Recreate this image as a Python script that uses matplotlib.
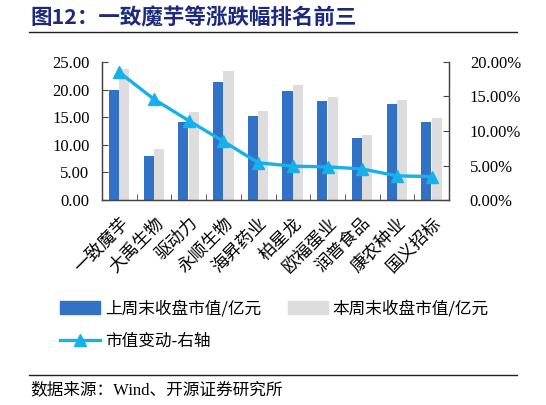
import numpy as np
import matplotlib
matplotlib.use("Agg")
import matplotlib.pyplot as plt
from matplotlib.lines import Line2D
from matplotlib.patches import Patch
from matplotlib.ticker import FuncFormatter, MultipleLocator, FixedLocator

plt.rcParams["font.family"] = "serif"
plt.rcParams["font.serif"] = ["Liberation Serif", "DejaVu Serif"]
CJK = ["Noto Sans CJK SC", "DejaVu Sans"]

# ── data ──────────────────────────────────────────────────────────────
companies = ["一致魔芋", "大禹生物", "驱动力", "永顺生物", "海昇药业",
             "柏星龙", "欧福蛋业", "润普食品", "康农种业", "国义招标"]
cap_last_week = [19.9, 8.0, 14.2, 21.4, 15.2, 19.8, 17.9, 11.2, 17.4, 14.2]
cap_this_week = [23.7, 9.2, 15.9, 23.3, 16.1, 20.8, 18.7, 11.7, 18.1, 14.8]
cap_change_pct = [18.5, 14.6, 11.5, 8.5, 5.4, 4.9, 4.8, 4.5, 3.5, 3.4]

C_BLUE = "#3272C6"
C_GREY = "#DDDDDD"
C_LINE = "#16B0EA"
C_TITLE = "#1B2A7E"

W, H = 546, 405
fig = plt.figure(figsize=(W / 100, H / 100), dpi=100)
ax = fig.add_axes([102 / W, 1 - 200 / H, (449 - 102) / W, (200 - 62) / H])
ax2 = ax.twinx()

x = np.arange(len(companies))
bw = 0.29
ax.bar(x - bw / 2 - 0.01, cap_last_week, bw, color=C_BLUE, zorder=2)
ax.bar(x + bw / 2, cap_this_week, bw, color=C_GREY, zorder=2)
ax2.plot(x, cap_change_pct, color=C_LINE, lw=2.4, marker="^", ms=8,
         zorder=3)

ax.set_xlim(-0.5, len(companies) - 0.5)
ax.set_ylim(0, 25)
ax2.set_ylim(0, 20)
ax.yaxis.set_major_locator(MultipleLocator(5))
ax2.yaxis.set_major_locator(MultipleLocator(5))
ax.yaxis.set_major_formatter(FuncFormatter(lambda v, p: f"{v:.2f}"))
ax2.yaxis.set_major_formatter(FuncFormatter(lambda v, p: f"{v:.2f}%"))

ax.xaxis.set_major_locator(FixedLocator(x))
ax.set_xticklabels(companies, rotation=45, ha="right",
                   rotation_mode="anchor", family=CJK, fontsize=12.5)
ax.xaxis.set_minor_locator(FixedLocator(np.arange(-0.5, len(companies), 1)))
ax.tick_params(axis="x", which="major", length=0, pad=10)
ax.tick_params(axis="x", which="minor", direction="in", length=4,
               color="#444444")
ax.tick_params(axis="y", direction="in", length=4, labelsize=12,
               color="#444444", pad=9)
ax2.tick_params(axis="y", direction="in", length=4, labelsize=12,
                color="#444444", pad=15)

for a in (ax, ax2):
    a.spines["top"].set_visible(False)
    for s in ("left", "right", "bottom"):
        a.spines[s].set_color("#444444")
        a.spines[s].set_linewidth(0.9)
    a.set_facecolor("none")

handles = [Patch(color=C_BLUE),
           Line2D([], [], color=C_LINE, lw=2.4, marker="^", ms=8),
           Patch(color=C_GREY)]
labels = ["上周末收盘市值/亿元", "市值变动-右轴", "本周末收盘市值/亿元"]
fig.legend(handles, labels, loc="upper left",
           bbox_to_anchor=(60 / W, 1 - 300 / H), ncol=2, frameon=False,
           prop={"family": CJK, "size": 12}, handlelength=2.4,
           handleheight=0.8, handletextpad=0.3, columnspacing=1.6,
           labelspacing=0.95, borderpad=0, borderaxespad=0)

fig.text(30 / W, 1 - 18 / H, "图12：一致魔芋等涨跌幅排名前三",
         family=CJK, fontsize=15.5, fontweight="bold", color=C_TITLE,
         va="center", ha="left")
fig.add_artist(Line2D([29 / W, 517 / W], [1 - 32 / H, 1 - 32 / H],
                      color="#222222", lw=1.0))
fig.add_artist(Line2D([29 / W, 517 / W], [1 - 375 / H, 1 - 375 / H],
                      color="#222222", lw=1.0))
fig.text(30 / W, 1 - 390 / H, "数据来源：Wind、开源证券研究所",
         family=["Liberation Serif", "Noto Sans CJK SC"], fontsize=12,
         va="center", ha="left")

fig.savefig("out.png", dpi=100)
